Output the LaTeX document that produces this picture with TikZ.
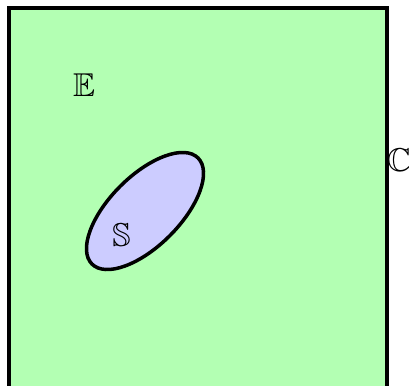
\documentclass[tikz,border=0pt]{standalone}
\usepackage{amssymb}
\begin{document}
\begin{tikzpicture}[x=1pt,y=-1pt,
  lbl/.style={inner sep=0pt,font=\fontsize{33}{36}\selectfont},
  region/.style={draw=black,line width=3.5pt}]
\useasboundingbox (0,0) rectangle (409,385);
\draw[region,fill={rgb,255:red,179;green,255;blue,179}] (9,8) rectangle (387,388);
\draw[region,fill={rgb,255:red,204;green,204;blue,255},rotate around={45:(145,211)}] (145,211) ellipse (75pt and 35pt);
\node[lbl] (E) at (84,85) {$\mathbb{E}$};
\node[lbl] (S) at (121.5,235) {$\mathbb{S}$};
\node[lbl] (C) at (399,160) {$\mathbb{C}$};
\end{tikzpicture}
\end{document}
